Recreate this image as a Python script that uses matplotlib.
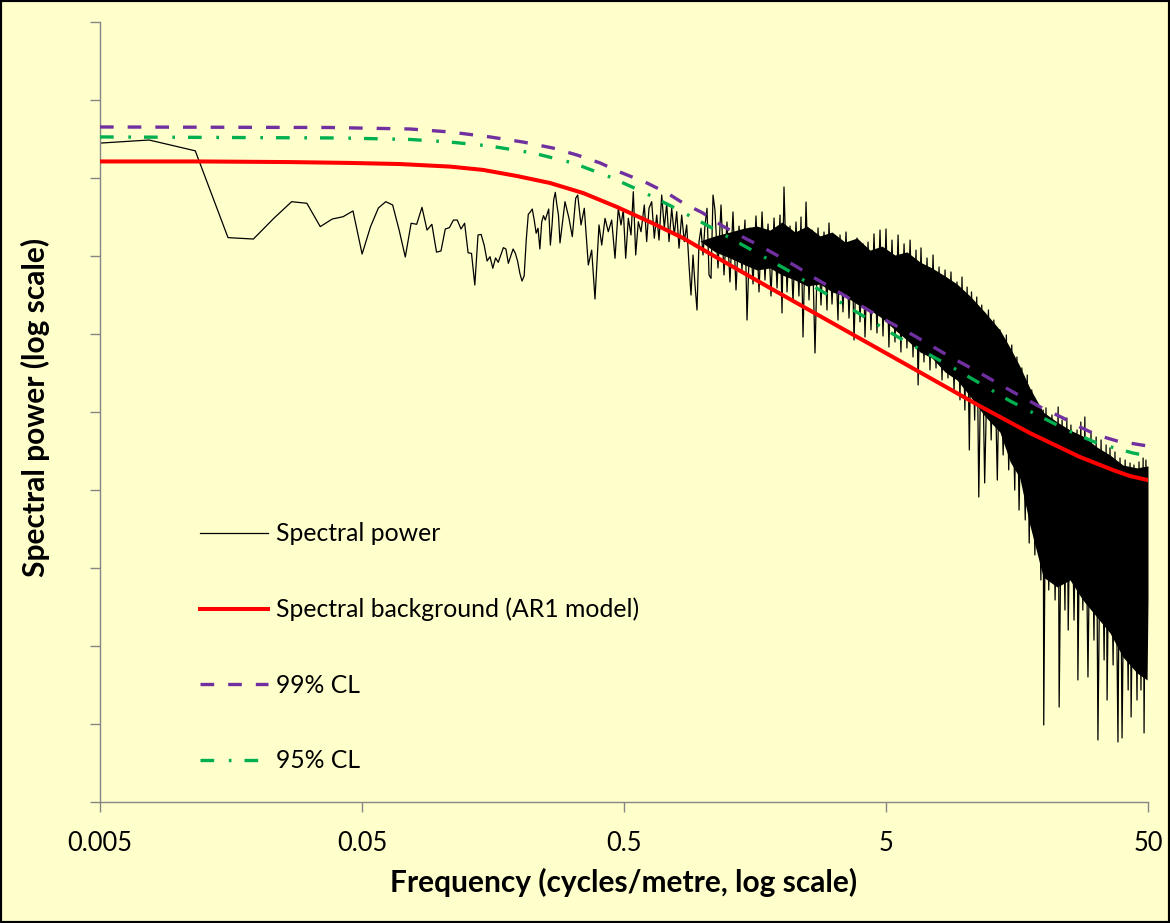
import numpy as np
import matplotlib.pyplot as plt

plt.rcParams['font.family'] = ['Lato', 'DejaVu Sans']

# Periodogram: the lowest harmonics (df = 0.00385 cycles/m), each point visible
low_freq = [0.00385, 0.0077, 0.01155, 0.0154, 0.01925, 0.0231, 0.02695, 0.0308, 0.03465, 0.0385,
            0.04235, 0.0462, 0.05005, 0.0539, 0.05775, 0.0616, 0.06545, 0.0693, 0.07315, 0.077,
            0.08085, 0.0847, 0.08855, 0.0924, 0.09625, 0.1001, 0.10395, 0.1078, 0.11165, 0.1155,
            0.11935, 0.1232, 0.12705, 0.1309, 0.13475, 0.1386, 0.14245, 0.1463, 0.15015, 0.154,
            0.15785, 0.1617, 0.16555, 0.1694, 0.17325, 0.1771, 0.18095, 0.1848, 0.18865, 0.1925,
            0.19635, 0.2002, 0.20405, 0.2079, 0.21175, 0.2156, 0.21945, 0.2233, 0.22715, 0.231,
            0.23485, 0.2387, 0.24255, 0.2464, 0.25025, 0.2541, 0.25795, 0.2618, 0.26565, 0.2695,
            0.27335, 0.2772, 0.28105, 0.2849]
low_power = [2.65e4, 3.07e4, 2.23e4, 1.72e3, 1.65e3, 3.07e3, 4.97e3, 4.74e3, 2.38e3, 2.98e3,
             3.19e3, 3.78e3, 1.06e3, 2.38e3, 4.13e3, 4.97e3, 4.51e3, 2.15e3, 9.71e2, 2.63e3,
             2.55e3, 4.21e3, 2.15e3, 2.55e3, 1.12e3, 1.16e3, 2.22e3, 2.31e3, 2.89e3, 2.89e3,
             2.22e3, 2.63e3, 1.10e3, 1.08e3, 4.25e2, 1.86e3, 1.89e3, 1.38e3, 8.63e2, 9.80e2,
             6.96e2, 9.44e2, 8.30e2, 1.03e3, 1.28e3, 1.23e3, 8.06e2, 1.00e3, 1.23e3, 1.08e3,
             8.53e2, 6.00e2, 4.78e2, 5.54e2, 1.60e3, 3.42e3, 3.67e3, 4.00e3, 2.89e3, 1.96e3,
             2.27e3, 1.23e3, 2.73e3, 3.29e3, 2.89e3, 3.42e3, 4.00e3, 1.38e3, 2.50e3, 5.22e3,
             6.55e3, 4.51e3, 3.35e3, 1.47e3]

# 0.3 - 1.1 cycles/m: peaks and troughs
mid_freq = [0.2977, 0.3083, 0.3174, 0.3270, 0.3329, 0.3427, 0.3527, 0.3654, 0.3764, 0.3875,
            0.4014, 0.4111, 0.4232, 0.4355, 0.4487, 0.4620, 0.4756, 0.4870, 0.4969, 0.5075,
            0.5193, 0.5317, 0.5426, 0.5541, 0.5670, 0.5806, 0.5977, 0.6103, 0.6228, 0.6378,
            0.6525, 0.6665, 0.6802, 0.6965, 0.7125, 0.7278, 0.7426, 0.7604, 0.7780, 0.7945,
            0.8108, 0.8302, 0.8495, 0.8675, 0.8853, 0.9009, 0.9170, 0.9332, 0.9497, 0.9667,
            0.9838, 1.0012, 1.0191, 1.0371, 1.0555, 1.0743, 1.0933]
mid_power = [4.97e3, 3.04e3, 1.77e3, 5.49e3, 6.05e3, 2.50e3, 4.09e3, 7.67e2, 1.19e3, 2.81e2,
             2.50e3, 1.38e3, 3.04e3, 2.05e3, 2.89e3, 9.35e2, 4.09e3, 2.50e3, 3.89e3, 9.35e2,
             3.04e3, 1.86e3, 6.67e3, 1.03e3, 2.75e3, 2.05e3, 4.51e3, 1.53e3, 4.09e3, 4.97e3,
             1.69e3, 3.35e3, 1.60e3, 6.05e3, 2.27e3, 4.74e3, 1.53e3, 4.09e3, 1.86e3, 3.70e3,
             1.26e3, 3.35e3, 1.53e3, 2.50e3, 7.67e2, 3.16e2, 1.03e3, 4.25e2, 2.03e2, 1.53e3,
             2.27e3, 1.03e3, 2.50e3, 4.09e3, 5.71e2, 5.17e2, 6.05e3]

# above ~1.1 cycles/m the line is a dense band: alternating spike tops and bottoms
high_freq = [1.112, 1.142, 1.173, 1.204, 1.236, 1.269, 1.303, 1.338, 1.374, 1.410,
             1.448, 1.474, 1.513, 1.554, 1.595, 1.638, 1.682, 1.726, 1.773, 1.820,
             1.869, 1.919, 1.970, 2.005, 2.040, 2.095, 2.151, 2.208, 2.267, 2.326,
             2.369, 2.411, 2.476, 2.541, 2.610, 2.679, 2.751, 2.824, 2.900, 2.977,
             3.029, 3.111, 3.194, 3.279, 3.338, 3.426, 3.518, 3.612, 3.708, 3.775,
             3.875, 3.979, 4.086, 4.157, 4.269, 4.382, 4.500, 4.619, 4.744, 4.870,
             5.00, 5.13, 5.27, 5.41, 5.56, 5.70, 5.86, 6.01, 6.18, 6.34,
             6.51, 6.63, 6.80, 6.98, 7.17, 7.36, 7.56, 7.76, 7.97, 8.18,
             8.40, 8.62, 8.85, 9.09, 9.33, 9.58, 9.75, 10.0, 10.2, 10.4,
             10.6, 10.9, 11.1, 11.3, 11.6, 11.9, 12.3, 12.6, 12.9, 13.3,
             13.6, 14.0, 14.4, 14.7, 15.1, 15.5, 15.8, 16.1, 16.5, 17.0,
             17.3, 17.6, 18.0, 18.5, 19.0, 19.5, 19.9, 20.0, 20.4, 20.9,
             21.5, 22.1, 22.7, 22.9, 23.5, 24.1, 24.5, 24.8, 25.4, 26.1,
             26.8, 27.0, 27.7, 28.2, 28.7, 29.5, 30.3, 31.1, 31.7, 32.2,
             33.1, 34.0, 34.6, 34.9, 35.8, 36.8, 37.4, 38.4, 39.1, 39.8,
             40.9, 42.0, 42.7, 43.1, 44.2, 45.4, 46.2, 47.0, 47.9, 48.3,
             49.1, 50.0]
high_power = [3.89e3, 7.02e2, 4.51e3, 5.71e2, 2.73e3, 4.64e2, 3.67e3, 3.67e2, 2.42e3, 6.62e2,
              2.89e3, 1.51e2, 2.29e3, 4.38e2, 3.26e3, 3.46e2, 3.67e3, 4.92e2, 2.57e3, 3.07e2,
              3.07e3, 3.89e2, 3.35e3, 1.86e2, 7.67e3, 3.46e2, 2.42e3, 2.57e2, 2.73e3, 3.07e2,
              3.16e3, 91.5, 4.92e3, 2.73e2, 2.15e3, 57.1, 2.29e3, 2.35e2, 2.03e3, 2.03e2,
              2.65e3, 2.42e2, 1.60e3, 1.51e2, 1.86e3, 1.92e2, 2.03e3, 1.60e2, 1.51e3, 83.8,
              1.70e3, 1.43e2, 1.43e3, 91.5, 1.51e3, 1.13e2, 1.92e3, 1.03e2, 2.15e3, 94.3,
              2.22e3, 68.1, 1.60e3, 79.0, 1.86e3, 58.8, 1.43e3, 66.2, 1.60e3, 50.7,
              1.19e3, 22.2, 1.27e3, 43.8, 9.43e2, 34.6, 1.03e3, 36.7, 7.23e2, 25.7,
              6.62e2, 27.3, 6.24e2, 18.1, 4.64e2, 14.3, 5.38e2, 10.6, 4.00e2, 3.26,
              3.46e2, 7.90, 2.98e2, 0.813, 2.35e2, 1.23, 2.03e2, 4.38, 1.51e2, 1.34,
              1.13e2, 2.81, 97.1, 1.81, 72.3, 1.0, 50.7, 0.554, 36.7, 0.413,
              29.8, 0.209, 19.2, 0.147, 12.3, 0.0702, 10.6, 9.71e-4, 11.3, 0.0522,
              9.15, 0.0389, 11.6, 1.65e-3, 7.90, 0.0289, 8.38, 0.0160, 6.81, 0.0215,
              5.88, 3.67e-3, 7.44, 0.0289, 8.63, 4.0e-3, 5.54, 0.0119, 4.78, 6.24e-4,
              4.38, 6.62e-3, 3.78, 2.03e-3, 3.46, 5.71e-3, 3.07, 5.88e-4, 2.57, 6.62e-4,
              2.42, 2.73e-3, 2.22, 1.23e-3, 2.09, 2.03e-3, 2.29, 2.73e-3, 2.57, 7.67e-4,
              2.42, 0.0389]

# solid core of the dense band (upper and lower edge)
core_freq = [0.975, 1.112, 1.269, 1.448, 1.609, 1.804, 2.005, 2.247, 2.497, 2.800,
             3.111, 3.488, 3.875, 4.344, 4.827, 5.41, 6.01, 6.74, 7.49, 8.40,
             9.33, 10.46, 11.9, 13.6, 14.9, 16.2, 17.7, 19.9, 22.5, 25.2,
             28.2, 31.9, 35.8, 40.1, 45.4, 49.6, 50.0]
core_upper = [1.56e3, 1.81e3, 2.03e3, 2.29e3, 2.42e3, 2.15e3, 2.73e3, 2.03e3, 2.42e3, 1.81e3,
              2.03e3, 1.51e3, 1.70e3, 1.19e3, 1.34e3, 1.03e3, 1.13e3, 8.38e2, 7.02e2, 5.54e2,
              4.38e2, 3.07e2, 1.92e2, 1.13e2, 66.2, 38.9, 20.3, 10.0, 7.44, 5.88,
              4.92, 3.56, 2.81, 2.09, 1.92, 2.03, 2.03]
core_lower = [1.56e3, 1.13e3, 9.43e2, 7.67e2, 6.62e2, 7.02e2, 5.71e2, 4.92e2, 4.13e2, 4.38e2,
              3.46e2, 3.07e2, 2.42e2, 2.03e2, 1.60e2, 1.13e2, 83.8, 58.8, 49.2, 32.6,
              25.7, 16.0, 8.89, 5.54, 2.29, 1.43, 0.356, 0.0767, 0.0571, 0.0702,
              0.0389, 0.0235, 0.0147, 7.23e-3, 4.51e-3, 3.67e-3, 0.0389]

# AR1 background and confidence levels
ar1_freq = [0.005, 0.01204, 0.02656, 0.045, 0.0698, 0.1084, 0.1448, 0.1952, 0.261, 0.349, 0.470,
            0.628, 0.840, 0.975, 1.804, 5.65, 11.42, 17.7, 27.5, 36.8, 42.7, 50.0]
ar1_power = [1.63e4, 1.63e4, 1.60e4, 1.56e4, 1.51e4, 1.40e4, 1.27e4, 1.06e4, 8.63e3, 6.42e3, 4.25e3,
             2.73e3, 1.70e3, 1.27e3, 3.89e2, 45.1, 11.9, 5.38, 2.65, 1.80, 1.51, 1.34]

cl99_freq = [0.005, 0.03775, 0.0762, 0.1084, 0.154, 0.206, 0.268, 0.331, 0.405, 0.483,
             0.612, 0.730, 0.840, 1.0, 1.19, 1.42, 1.68, 1.97, 2.29, 2.63,
             3.06, 3.55, 4.09, 4.74, 6.34, 8.55, 11.42, 15.3, 19.4, 23.7,
             27.5, 31.9, 38.1, 50.0]
cl99_power = [4.51e4, 4.44e4, 4.25e4, 3.89e4, 3.36e4, 2.89e4, 2.42e4, 1.97e4, 1.56e4, 1.19e4,
              8.63e3, 6.42e3, 4.78e3, 3.56e3, 2.42e3, 1.75e3, 1.31e3, 971, 723, 538,
              400, 298, 222, 165, 97.1, 53.8, 31.6, 18.0, 11.6, 8.38,
              6.42, 5.07, 4.25, 3.66]

cl95_freq = [0.005, 0.0412, 0.0762, 0.1084, 0.154, 0.225, 0.319, 0.442, 0.591, 0.769,
             1.0, 1.27, 1.61, 2.10, 2.63, 3.34, 4.34, 5.80, 7.36, 9.33,
             11.7, 14.9, 18.9, 24.5, 31.9, 43.8, 50.0]
cl95_power = [3.36e4, 3.26e4, 3.12e4, 2.89e4, 2.57e4, 2.09e4, 1.56e4, 1.03e4, 6.62e3, 4.25e3,
              2.65e3, 1.70e3, 1.09e3, 662, 413, 257, 151, 83.8, 53.8, 34.6,
              22.2, 13.8, 9.15, 5.88, 4.00, 2.98, 2.73]

x_ticks = [0.005, 0.05, 0.5, 5, 50]
x_labels = ['0.005', '0.05', '0.5', '5', '50']

freq = np.concatenate([low_freq, mid_freq, high_freq])
power = np.concatenate([low_power, mid_power, high_power])

bg = '#FFFFCC'
axis_grey = '#868686'

fig = plt.figure(figsize=(11.7, 9.23), dpi=100, facecolor=bg)
ax = fig.add_axes([100 / 1170, 121 / 923, 1048 / 1170, 780 / 923])
ax.set_facecolor(bg)

ax.plot(freq, power, color='black', lw=0.9, label='Spectral power', zorder=2)
ax.fill_between(core_freq, core_lower, core_upper, color='black', lw=0, zorder=2)
ax.plot(ar1_freq, ar1_power, color='#FF0000', lw=2.9,
        label='Spectral background (AR1 model)', zorder=3)
ax.plot(cl99_freq, cl99_power, color='#7030A0', lw=2.4, dashes=(4.1, 4.2),
        label='99% CL', zorder=4)
ax.plot(cl95_freq, cl95_power, color='#00B050', lw=2.4, dashes=(4.1, 4.4, 0.8, 3.9),
        label='95% CL', zorder=4)

ax.set_xscale('log')
ax.set_yscale('log')
ax.set_xlim(0.005, 50)
ax.set_ylim(1e-4, 1e6)
ax.set_xticks(x_ticks, x_labels)
ax.set_yticks([10.0 ** e for e in range(-4, 7)])
ax.set_yticklabels([])
ax.xaxis.set_minor_locator(plt.NullLocator())
ax.yaxis.set_minor_locator(plt.NullLocator())

for side in ['top', 'right']:
    ax.spines[side].set_visible(False)
for side in ['left', 'bottom']:
    ax.spines[side].set_color(axis_grey)
    ax.spines[side].set_linewidth(1)
ax.tick_params(axis='both', direction='out', length=7, width=1, color=axis_grey)
ax.tick_params(axis='x', labelsize=18.4, pad=14)

ax.set_xlabel('Frequency (cycles/metre, log scale)', fontsize=21.5, fontweight='bold', va='center')
ax.xaxis.set_label_coords(0.5, -0.1026)
ax.set_ylabel('Spectral power (log scale)', fontsize=21.5, fontweight='bold', va='center')
ax.yaxis.set_label_coords(-0.062, 0.5064)

ax.legend(loc='upper left', bbox_to_anchor=(0.0954, 0.3585), frameon=False, fontsize=17.8,
          handlelength=2.75, handletextpad=0.32, labelspacing=2.12, borderpad=0, borderaxespad=0)

# black frame round the whole picture
fig.add_artist(plt.Rectangle((0, 0), 1, 1, transform=fig.transFigure, fill=False,
                             ec='black', lw=3))

fig.savefig('out.png', dpi=100, facecolor=bg)
